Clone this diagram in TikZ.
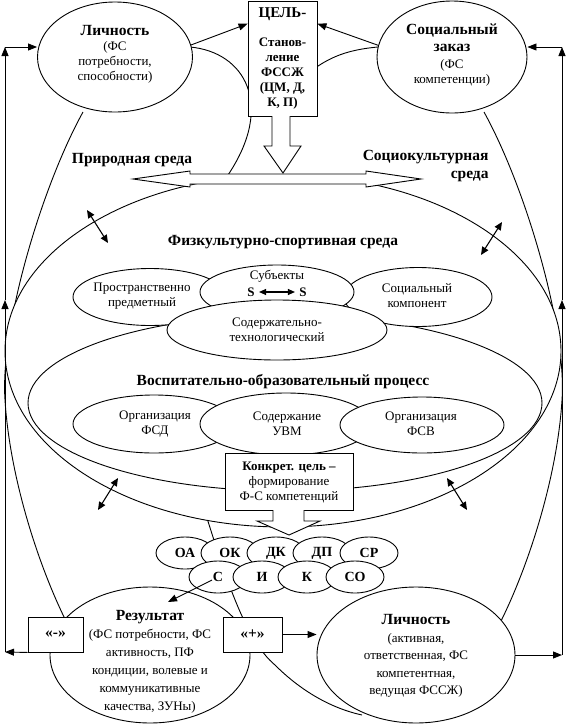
\documentclass[tikz,border=0pt]{standalone}
\usepackage{fontspec}
\setmainfont{Liberation Serif}
\usetikzlibrary{shapes.geometric,arrows.meta,calc}
\newcommand\fsn{\fontsize{13}{15}\selectfont}
\newcommand\fbh{\fontsize{15.5}{17}\selectfont\bfseries}
\newcommand\fbs{\fontsize{13}{15}\selectfont\bfseries}
\begin{document}
\begin{tikzpicture}[x=1pt,y=-1pt,line width=0.9pt,
  ell/.style={draw,ellipse,fill=white,inner sep=0pt},
  box/.style={draw,rectangle,fill=white,inner sep=0pt},
  txt/.style={align=center,inner sep=0pt,font=\fsn},
  ttl/.style={align=center,inner sep=0pt,font=\fbh},
  small/.style={ell,minimum width=58,minimum height=32,font=\fontsize{14}{15}\selectfont\bfseries},
  tip/.style={-{Triangle[length=9pt,width=7pt]}},
  dtip/.style={line width=1.1pt,{Triangle[length=8pt,width=7pt]}-{Triangle[length=8pt,width=7pt]}},
  hollow/.style={draw,fill=white,line join=miter}]
\useasboundingbox (0,0) rectangle (568,724);
\fill[white] (0,0) rectangle (568,724);
\coordinate (cLT) at (5,47);
\coordinate (cLM) at (5,300);
\coordinate (cLB) at (5,652);
\coordinate (cRT) at (562,47);
\coordinate (cRM) at (562,300);
\coordinate (cRB) at (562,655);
% outer curves
\draw (83,112) .. controls (40,190) and (0,330) .. (5,400) .. controls (10,480) and (40,570) .. (68,625);
\draw (484,112) .. controls (527,190) and (567,330) .. (562,400) .. controls (557,480) and (527,570) .. (499,625);
\draw (190,47) .. controls (245,52) and (275,105) .. (228,175);
\draw (378,47) .. controls (345,50) and (325,58) .. (300,80);
\draw (206,515) .. controls (225,575) and (245,640) .. (275,665) .. controls (300,690) and (330,708) .. (362,715);
% environments
\node[ell,minimum width=556,minimum height=352] (fss) at (283,351) {};
\node[ell,minimum width=514,minimum height=176] (vop) at (285,403) {};
\node[ell,minimum width=154,minimum height=57] (pp) at (150,297) {};
\node[ell,minimum width=148,minimum height=59] (sk) at (418,297) {};
\node[ell,minimum width=154,minimum height=54] (subj) at (277,292) {};
\node[ell,minimum width=220,minimum height=60] (st) at (277,330) {};
\node[txt] (ppT) at (142,296) {Пространственно\\предметный};
\node[txt] (skT) at (417,296) {Социальный\\компонент};
\node[txt] (subjT) at (277,276) {Субъекты};
\node[font=\fbs,inner sep=4pt] (s1) at (251,292) {S};
\node[font=\fbs,inner sep=4pt] (s2) at (303,292) {S};
\draw[line width=1.1pt,{Triangle[length=7pt,width=6pt]}-{Triangle[length=7pt,width=6pt]}] (s1) -- (s2);
\node[txt] (stT) at (277,330) {Содержательно-\\технологический};
\node[ttl] (tFS) at (283,242) {Физкультурно-спортивная среда};
\node[ttl] (tVOP) at (283,382) {Воспитательно-образовательный процесс};
\node[ell,minimum width=162,minimum height=58] (fsd) at (154,424) {};
\node[ell,minimum width=172,minimum height=62] (uvm) at (286,424) {};
\node[ell,minimum width=164,minimum height=56] (fsv) at (422,425) {};
\node[txt] (fsdT) at (155,424) {Организация\\ФСД};
\node[txt] (uvmT) at (287,424) {Содержание\\УВМ};
\node[txt] (fsvT) at (421,424) {Организация\\ФСВ};
% concrete goal callout
\node[box,minimum width=128,minimum height=57] (konk) at (289,481.5) {};
\fill[white] (273.5,508) rectangle (303.5,512);
\draw[hollow] (273,510) -- (273,521) -- (257,521) -- (289,535) -- (320,521) -- (304,521) -- (304,510);
\node[txt] (konkT) at (289,482) {{\bfseries Конкрет. цель –}\\формирование\\Ф-С компетенций};
% small double arrows
\coordinate (d1a) at (87,210); \coordinate (d1b) at (108,243);
\coordinate (d2a) at (502,222); \coordinate (d2b) at (481,255);
\coordinate (d3a) at (118,478); \coordinate (d3b) at (98,510);
\coordinate (d4a) at (447,478); \coordinate (d4b) at (467,510);
\draw[dtip] (d1a) -- (d1b);
\draw[dtip] (d2a) -- (d2b);
\draw[dtip] (d3a) -- (d3b);
\draw[dtip] (d4a) -- (d4b);
% double horizontal arrow
\draw[hollow] (133,179) -- (190,171) -- (190,174) -- (366,174) -- (366,171) -- (421,179) -- (366,187) -- (366,184) -- (190,184) -- (190,187) -- cycle;
\node[ttl] (tPrir) at (132,160) {Природная среда};
\node[ttl,align=right,anchor=east] (tSoc) at (489,166) {Социокультурная\\[1pt]среда};
% goal box
\node[box,minimum width=69,minimum height=115] (goal) at (282.5,58.5) {};
\draw[hollow] (272,116) -- (272,146) -- (264,146) -- (283,173) -- (301,146) -- (290,146) -- (290,116);
\node[txt,font=\fbs] (goalT) at (282.5,58) {{\fontsize{15}{15}\selectfont ЦЕЛЬ-}\\[14pt]Станов-\\ление\\ФССЖ\\(ЦМ, Д,\\К, П)};
% top ellipses
\node[ell,minimum width=155,minimum height=110] (lichTop) at (115,57) {};
\node[txt] (lichTopT) at (115,54) {{\fbh Личность}\\(ФС\\потребности,\\способности)};
\node[ell,minimum width=150,minimum height=112] (soc) at (452,57) {};
\node[txt] (socT) at (452,55) {{\fbh Социальный}\\[2pt]{\fbh заказ}\\[2pt](ФС\\компетенции)};
\draw[tip] (lichTop.9) -- ($(goal.north west)!0.2!(goal.south west)$);
\draw[tip] (soc.171) -- ($(goal.north east)!0.2!(goal.south east)$);
% competence cluster
\node[small] (oa) at (185,553) {ОА};
\node[small] (ok) at (230,553) {ОК};
\node[small] (dk) at (276,553) {ДК};
\node[small] (dp) at (322,553) {ДП};
\node[small] (sr) at (369,553) {СР};
\node[small] (sc) at (218,577) {С};
\node[small] (ii) at (262,577) {И};
\node[small] (kk) at (307,577) {К};
\node[small] (so) at (355,577) {СО};
% bottom ellipses
\node[ell,minimum width=200,minimum height=136] (res) at (150,655) {};
\node[txt,font=\fontsize{13}{18}\selectfont] (resT) at (150,662) {{\fbh Результат}\\(ФС потребности, ФС\\активность, ПФ\\кондиции, волевые и\\коммуникативные\\качества, ЗУНы)};
\node[ell,minimum width=198,minimum height=136] (lichR) at (416,655) {};
\node[txt,font=\fontsize{13}{17.5}\selectfont] (lichRT) at (416,656) {{\fbh Личность}\\(активная,\\ответственная, ФС\\компетентная,\\ведущая ФССЖ)};
\node[box,minimum width=55,minimum height=35,font=\fbh] (minus) at (55.5,634.5) {«-»};
\node[box,minimum width=59,minimum height=35,font=\fbh] (plus) at (252.5,634.5) {«+»};
\coordinate (sStart) at (212,580);
\coordinate (resIn) at (168,602);
\draw[tip] (sStart) -- (resIn);
\draw[tip] (plus.east) -- (plus.east -| lichR.west);
% feedback loops
\draw[tip] (minus.south west) -- (cLB);
\draw[tip] (cLB) -- (cLM);
\draw[tip] (cLM) -- (cLT);
\draw[tip] (cLT) -- (cLT -| lichTop.west);
\draw[tip] (lichR.east) -- (cRB);
\draw[tip] (cRB) -- (cRM);
\draw[tip] (cRM) -- (cRT);
\draw[tip] (cRT) -- (cRT -| soc.east);
\end{tikzpicture}
\end{document}
